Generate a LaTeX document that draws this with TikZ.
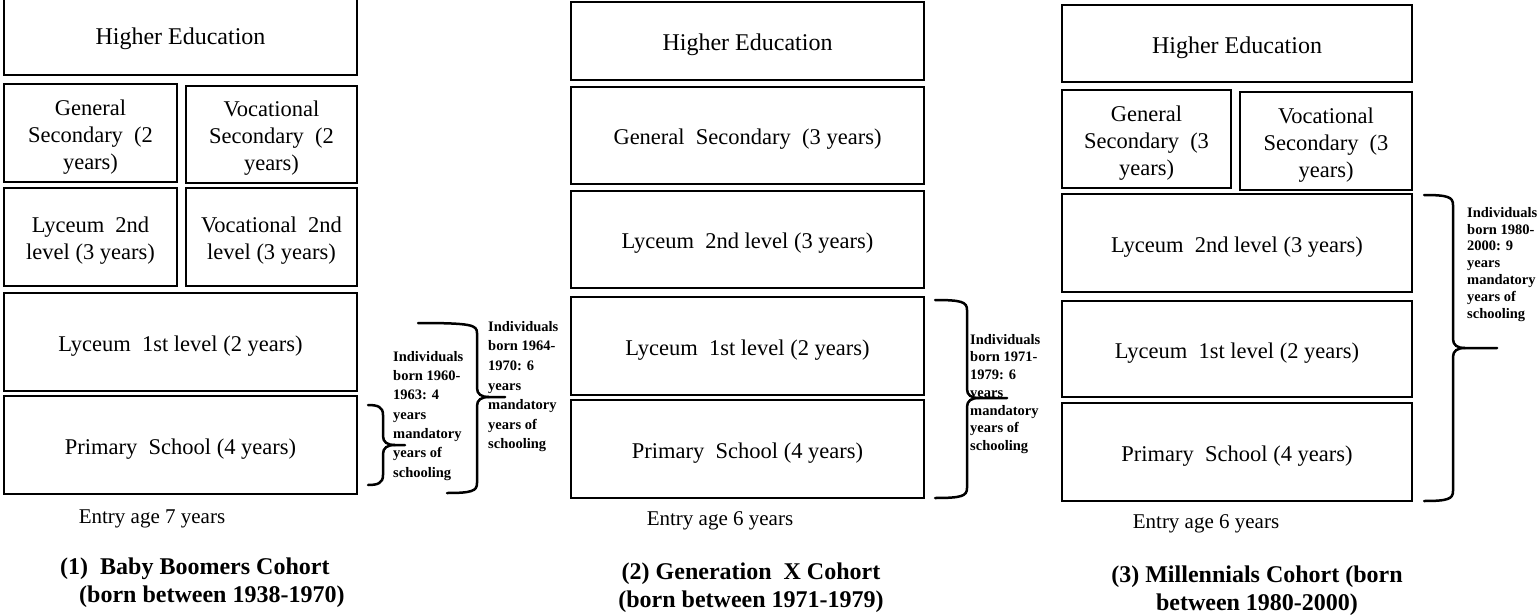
\documentclass[tikz,border=0pt]{standalone}
\usepackage{fontspec}
\setmainfont{Liberation Serif}
\newcommand\mybrace[8]{%
  % #1 name prefix, #2 x of top end, #3 y top, #4 x of bottom end, #5 y bottom, #6 x vertical, #7 x tip, #8 y tip
  \coordinate (#1t) at (#2,#3);
  \coordinate (#1b) at (#4,#5);
  \coordinate (#1p) at (#7,#8);
  \draw[brc] (#1t) .. controls ({#6-5},#3) and (#6,{#3+2}) .. (#6,{#3+10})
    -- (#6,{#8-9}) .. controls (#6,{#8-3}) and ({#6+4},#8) .. ({#6+12},#8) -- (#1p);
  \draw[brc] ({#6+12},#8) .. controls ({#6+4},#8) and (#6,{#8+3}) .. (#6,{#8+9})
    -- (#6,{#5-10}) .. controls (#6,{#5-2}) and ({#6-5},#5) .. (#1b);
}
% box: name, cx, cy, width, height, text, text style
\newcommand\bx[7]{%
  \node[box, minimum width=#4pt, minimum height=#5pt] (#1) at (#2,#3) {};
  \node[#7] (#1-t) at ([yshift=-4pt]#1.center) {#6};
}
\begin{document}
\begin{tikzpicture}[x=1pt,y=-1pt,
  box/.style={draw, line width=2.2pt, inner sep=0pt},
  btxt/.style={inner sep=0pt, align=center, font=\fontsize{22.5}{27}\selectfont},
  hetxt/.style={btxt, font=\fontsize{24}{28}\selectfont},
  brc/.style={line width=2.5pt, line cap=round},
  note/.style={anchor=north west, inner sep=0pt, align=left, font=\bfseries\fontsize{14.5}{#1}\selectfont},
  entry/.style={inner sep=0pt, font=\fontsize{21}{25}\selectfont},
  ttl/.style={inner sep=0pt, align=center, font=\bfseries\fontsize{24}{28}\selectfont}]
\useasboundingbox (0,0) rectangle (1540,616);

% ---------------- Column 1 ----------------
\bx{he1}{180.5}{35}{353}{80}{Higher Education}{hetxt}
\bx{gs1}{90.5}{133}{173}{98}{General\\Secondary\ \ (2\\years)}{btxt}
\bx{vs1}{271.5}{134.5}{171}{97}{Vocational\\Secondary\ \ (2\\years)}{btxt}
\bx{ly21}{90.5}{237}{173}{98}{Lyceum\ \ 2nd\\level (3 years)}{btxt}
\bx{vo21}{271.5}{237}{171}{98}{Vocational\ \ 2nd\\level (3 years)}{btxt}
\bx{ly11}{180.5}{342}{353}{98}{Lyceum\ \ 1st level (2 years)}{btxt}
\bx{pr1}{180.5}{445}{353}{98}{Primary\ \ School (4 years)}{btxt}
\node[entry] (en1) at (152,519) {Entry age 7 years};
\node[ttl, anchor=north west, align=left] (t1) at (60,558) {(1)\ \ Baby Boomers Cohort\\\hspace*{19pt}(born between 1938-1970)};

\mybrace{b1s}{368}{405}{368}{485}{383}{405}{445}
\node[note=19.3] (n1s) at (393,351) {Individuals\\born 1960-\\1963: 4\\years\\mandatory\\years of\\schooling};
\mybrace{b1l}{418}{323}{447}{493}{477}{505}{397}
\node[note=19.6] (n1l) at (488,321) {Individuals\\born 1964-\\1970: 6\\years\\mandatory\\years of\\schooling};

% ---------------- Column 2 ----------------
\bx{he2}{747.5}{41}{353}{78}{Higher Education}{hetxt}
\bx{gs2}{747.5}{135.5}{353}{97}{General\ \ Secondary\ \ (3 years)}{btxt}
\bx{ly22}{747.5}{239.5}{353}{97}{Lyceum\ \ 2nd level (3 years)}{btxt}
\bx{ly12}{747.5}{346}{353}{98}{Lyceum\ \ 1st level (2 years)}{btxt}
\bx{pr2}{747.5}{449}{353}{98}{Primary\ \ School (4 years)}{btxt}
\node[entry] (en2) at (720,521) {Entry age 6 years};
\node[ttl] (t2) at (751,588) {(2) Generation\ \ X Cohort\\(born\ between\ 1971-1979)};

\mybrace{b2}{935}{300}{935}{498}{967}{1007}{398}
\node[note=17.7] (n2) at (970,334) {Individuals\\born 1971-\\1979: 6\\years\\mandatory\\years of\\schooling};

% ---------------- Column 3 ----------------
\bx{he3}{1237}{43.5}{350}{77}{Higher Education}{hetxt}
\bx{gs3}{1146.5}{139}{169}{98}{General\\Secondary\ \ (3\\years)}{btxt}
\bx{vs3}{1326}{141}{172}{98}{Vocational\\Secondary\ \ (3\\years)}{btxt}
\bx{ly23}{1237}{243}{350}{98}{Lyceum\ \ 2nd level (3 years)}{btxt}
\bx{ly13}{1237}{349}{350}{96}{Lyceum\ \ 1st level (2 years)}{btxt}
\bx{pr3}{1237}{452}{350}{98}{Primary\ \ School (4 years)}{btxt}
\node[entry] (en3) at (1206,524) {Entry age 6 years};
\node[ttl] (t3) at (1257,591) {(3) Millennials\ Cohort\ (born\\between\ 1980-2000)};

\mybrace{b3}{1424}{195}{1424}{501}{1453}{1497}{348}
\node[note=16.8] (n3) at (1467,207) {Individuals\\born 1980-\\2000: 9\\years\\mandatory\\years of\\schooling};
\end{tikzpicture}
\end{document}
